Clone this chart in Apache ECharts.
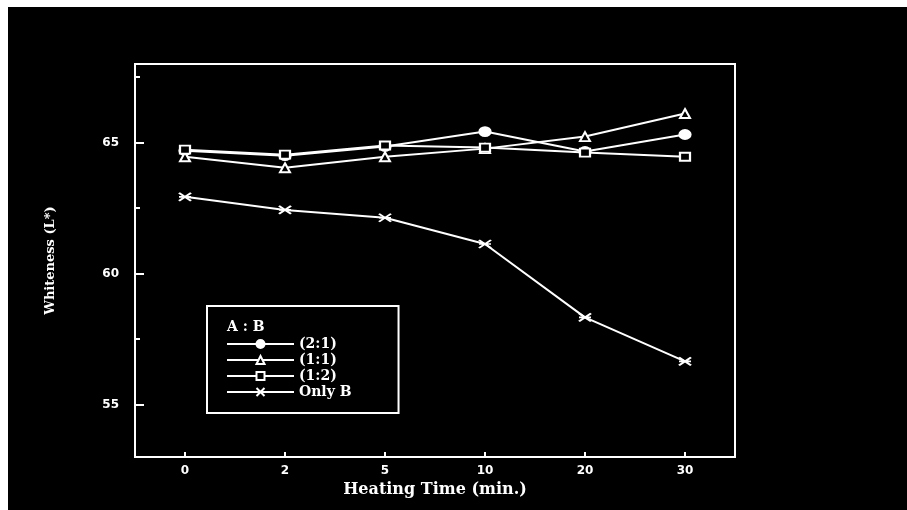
<!DOCTYPE html>
<html>
<head>
<meta charset="utf-8">
<script src="https://cdn.jsdelivr.net/npm/echarts@6/dist/echarts.min.js"></script>
<style>
html,body{margin:0;padding:0;background:#fff;width:907px;height:510px;overflow:hidden;}
#c{position:absolute;left:8px;top:7px;width:899px;height:503px;background:#000;}
</style>
</head>
<body>
<div id="c"></div>
<script>
const categories = ['0', '2', '5', '10', '20', '30'];
const s21 = [64.69, 64.50, 64.85, 65.42, 64.66, 65.31];
const s11 = [64.46, 64.04, 64.46, 64.77, 65.23, 66.11];
const s12 = [64.73, 64.54, 64.89, 64.81, 64.62, 64.46];
const sOnlyB = [62.93, 62.43, 62.13, 61.13, 58.33, 56.65];
const majorTicks = [55, 60, 65];
const minorTicks = [57.5, 62.5, 67.5];

const W = '#fff';
const SERIF = 'DejaVu Serif';
const lblFont = {color: W, fontFamily: 'DejaVu Sans', fontWeight: 'bold', fontSize: 12};
const asterisk = 'path://M0,0L12,8M0,8L12,0M0,4L12,4';

function mk(name, data, symbol, size, fill) {
  return {
    name: name, type: 'line', data: data,
    symbol: symbol, symbolSize: size,
    lineStyle: {color: W, width: 2},
    itemStyle: {color: fill, borderColor: W, borderWidth: 2},
    emphasis: {disabled: true},
    z: 3
  };
}

const chart = echarts.init(document.getElementById('c'), null, {renderer: 'canvas'});
chart.setOption({
  backgroundColor: '#000',
  animation: false,
  grid: {left: 127, right: 172, top: 57, bottom: 53, show: true, borderColor: W, borderWidth: 2, backgroundColor: 'transparent'},
  title: {
    text: 'A : B', left: 214, top: 308,
    textStyle: {color: W, fontFamily: SERIF, fontWeight: 'bold', fontSize: 14}
  },
  legend: {
    orient: 'vertical', left: 199, top: 299,
    padding: [31, 47, 14, 19],
    itemWidth: 67, itemHeight: 10, itemGap: 2,
    selectedMode: false,
    backgroundColor: '#000',
    borderColor: W, borderWidth: 2,
    textStyle: {color: W, fontFamily: SERIF, fontWeight: 'bold', fontSize: 14, lineHeight: 14},
    data: ['(2:1)', '(1:1)', '(1:2)', 'Only B']
  },
  xAxis: {
    type: 'category', data: categories, boundaryGap: true,
    name: 'Heating Time (min.)', nameLocation: 'middle', nameGap: 25,
    nameTextStyle: {color: W, fontFamily: SERIF, fontWeight: 'bold', fontSize: 16},
    axisLine: {lineStyle: {color: W, width: 2}},
    axisTick: {show: true, inside: true, length: 5, alignWithLabel: true, lineStyle: {color: W, width: 2}},
    axisLabel: Object.assign({margin: 8}, lblFont),
    splitLine: {show: false}
  },
  yAxis: [{
    type: 'value', min: 53, max: 68, position: 'left',
    name: 'Whiteness (L*)', nameLocation: 'middle', nameGap: 78,
    nameTextStyle: {color: W, fontFamily: SERIF, fontWeight: 'bold', fontSize: 13},
    axisLine: {show: true, lineStyle: {color: W, width: 2}},
    axisTick: {show: true, inside: true, length: 9, customValues: majorTicks, lineStyle: {color: W, width: 2}},
    axisLabel: Object.assign({margin: 16, customValues: majorTicks}, lblFont),
    splitLine: {show: false}
  }, {
    type: 'value', min: 53, max: 68, position: 'left', offset: 0,
    axisLine: {show: false},
    axisTick: {show: true, inside: true, length: 5, customValues: minorTicks, lineStyle: {color: W, width: 2}},
    axisLabel: {show: false},
    splitLine: {show: false}
  }],
  series: [
    mk('(2:1)', s21, 'circle', [11, 9], W),
    mk('(1:1)', s11, 'triangle', [10, 9], '#000'),
    mk('(1:2)', s12, 'rect', [10, 8], '#000'),
    mk('Only B', sOnlyB, asterisk, [12, 8], W)
  ]
});
</script>
</body>
</html>
